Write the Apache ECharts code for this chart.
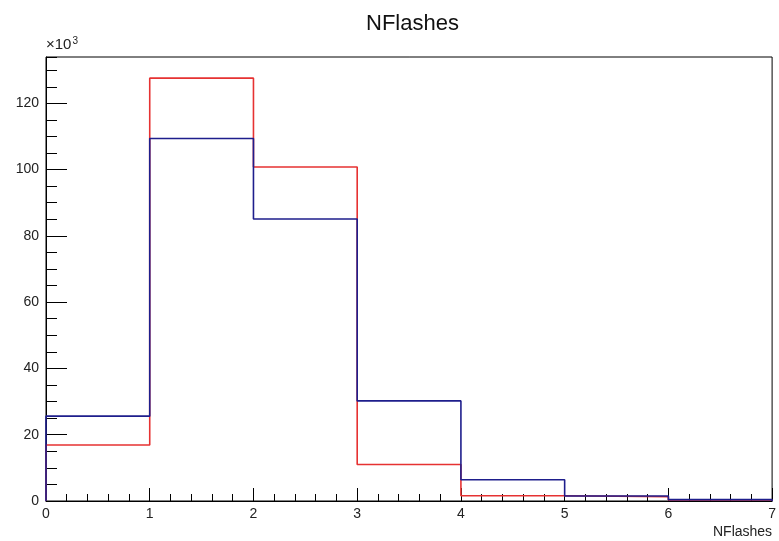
<!DOCTYPE html>
<html>
<head>
<meta charset="utf-8">
<title>NFlashes</title>
<script src="https://cdn.jsdelivr.net/npm/echarts@6/dist/echarts.min.js"></script>
<style>
  html, body { margin: 0; padding: 0; background: #fff; }
  #chart { width: 779px; height: 541px; }
</style>
</head>
<body>
<div id="chart"></div>
<script>
// bin edges of the histogram (NFlashes)
const binEdges = [0, 1, 2, 3, 4, 5, 6, 7];
// entries per bin, in units of 10^3
const redCounts = [16.9, 127.6, 100.8, 11.0, 1.6, 1.3, 0.3];
const blueCounts = [25.6, 109.4, 85.1, 30.2, 6.4, 1.5, 0.4];
const yTicks = [0, 20, 40, 60, 80, 100, 120];

// turn bin contents into a step outline like ROOT's hist drawing
function outline(counts) {
  const pts = [[binEdges[0], 0]];
  counts.forEach((v, i) => {
    pts.push([binEdges[i], v]);
    pts.push([binEdges[i + 1], v]);
  });
  pts.push([binEdges[binEdges.length - 1], 0]);
  return pts;
}

const font = 'Liberation Sans, Arial, Helvetica, sans-serif';
const yMax = Math.max(...redCounts, ...blueCounts) * 1.05;

const chart = echarts.init(document.getElementById('chart'));

chart.setOption({
  animation: false,
  title: {
    text: 'NFlashes',
    left: 361,
    top: 8,
    textStyle: { fontFamily: font, fontSize: 22, fontWeight: 'normal', color: '#111' }
  },
  grid: {
    left: 46, right: 3, top: 57, bottom: 40,
    show: true, borderColor: '#000', borderWidth: 1, backgroundColor: 'transparent'
  },
  xAxis: {
    type: 'value',
    min: 0, max: 7, interval: 1,
    name: 'NFlashes',
    nameLocation: 'end',
    nameGap: 0,
    nameTextStyle: {
      fontFamily: font, fontSize: 14, color: '#222',
      align: 'right', verticalAlign: 'top', padding: [24, 0, 0, 0]
    },
    axisLine: { show: true, lineStyle: { color: '#000', width: 1 } },
    axisTick: { inside: true, length: 13, lineStyle: { color: '#000' } },
    minorTick: { show: true, splitNumber: 5, length: 7, lineStyle: { color: '#000' } },
    axisLabel: { margin: 6, fontFamily: font, fontSize: 14, color: '#222' },
    splitLine: { show: false }
  },
  yAxis: [
    {
      type: 'value',
      min: 0, max: yMax, interval: 20,
      name: '×10{sup|3}',
      nameLocation: 'end',
      nameGap: 4,
      nameTextStyle: {
        fontFamily: font, fontSize: 15, color: '#222', align: 'left', verticalAlign: 'bottom',
        rich: { sup: { fontFamily: font, fontSize: 10, color: '#222', verticalAlign: 'top', padding: [0, 0, 7, 1] } }
      },
      axisLine: { show: true, lineStyle: { color: '#000', width: 1 } },
      axisTick: { inside: true, length: 21, lineStyle: { color: '#000' } },
      axisLabel: {
        margin: 7, fontFamily: font, fontSize: 14, color: '#222', showMaxLabel: false,
        formatter: v => (yTicks.includes(Math.round(v)) && Math.abs(v - Math.round(v)) < 1e-6) ? String(Math.round(v)) : ''
      },
      splitLine: { show: false }
    },
    {
      // minor ticks every 5 units
      type: 'value',
      position: 'left',
      min: 0, max: yMax, interval: 5,
      axisLine: { show: false },
      axisTick: { show: true, inside: true, length: 11, lineStyle: { color: '#000' } },
      axisLabel: { show: false },
      splitLine: { show: false }
    }
  ],
  series: [
    {
      type: 'line',
      data: outline(redCounts),
      showSymbol: false,
      symbol: 'none',
      lineStyle: { color: '#e63232', width: 1.6 },
      z: 3
    },
    {
      type: 'line',
      data: outline(blueCounts),
      showSymbol: false,
      symbol: 'none',
      lineStyle: { color: '#1e1e8c', width: 1.6 },
      z: 4
    }
  ]
});

window.addEventListener('resize', () => chart.resize());
</script>
</body>
</html>
